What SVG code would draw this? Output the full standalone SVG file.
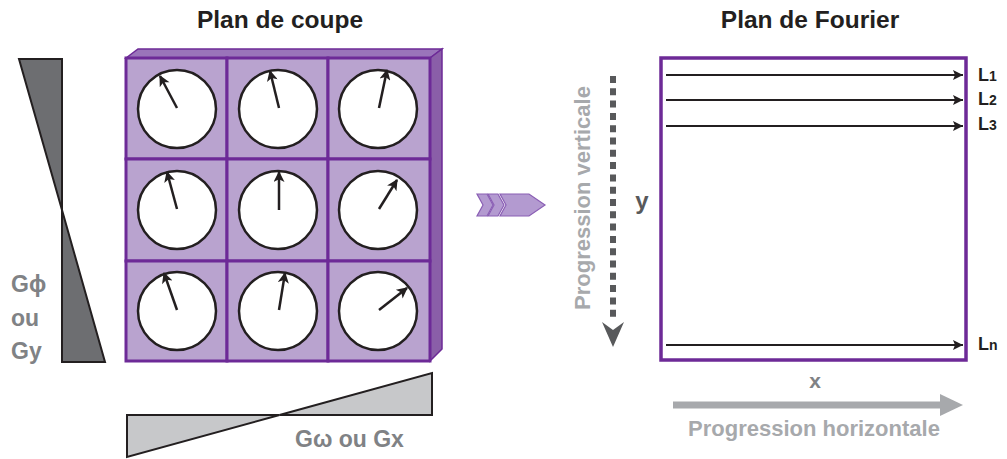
<svg xmlns="http://www.w3.org/2000/svg" width="1007" height="459" viewBox="0 0 1007 459">
<style>
.title{font-family:"Liberation Sans",Arial,sans-serif;font-weight:bold;font-size:24.5px;fill:#231f20;text-anchor:middle}
.glab{font-family:"Liberation Sans",Arial,sans-serif;font-weight:bold;font-size:23px;fill:#808285}
.lab{font-family:"Liberation Sans",Arial,sans-serif;font-weight:bold;font-size:18px;fill:#231f20}
.sub{font-size:14px}
.prog{font-family:"Liberation Sans",Arial,sans-serif;font-weight:bold;font-size:22px;fill:#a7a9ac}
.cell{fill:#b9a3cf;stroke:#6d2a97;stroke-width:3}
.dial{fill:#fff;stroke:#231f20;stroke-width:2.5}
.hand{stroke:#231f20;stroke-width:2.5;fill:none;marker-end:url(#hh)}
.line{stroke:#231f20;stroke-width:2;fill:none;marker-end:url(#lh)}
.grad{stroke:#231f20;stroke-width:2;stroke-linejoin:miter}
</style>
<defs>
<marker id="hh" viewBox="0 0 10 10" refX="9" refY="5" markerUnits="userSpaceOnUse" markerWidth="13" markerHeight="11" orient="auto">
<path d="M0,0 L10,5 L0,10 L2.5,5 Z" fill="#231f20"/>
</marker>
<marker id="lh" viewBox="0 0 10 10" refX="10" refY="5" markerUnits="userSpaceOnUse" markerWidth="15" markerHeight="10" orient="auto">
<path d="M0,0 L10,5 L0,10 L2,5 Z" fill="#231f20"/>
</marker>
</defs>

<g id="title-coupe"><text class="title" x="280" y="28">Plan de coupe</text></g>
<g id="title-fourier"><text class="title" x="810" y="28">Plan de Fourier</text></g>

<g id="gradient-y">
<polygon class="grad" points="19,59 62,59 62,210" fill="#6d6e71"/>
<polygon class="grad" points="62,210 62,362 105,362" fill="#6d6e71"/>
<text class="glab" x="11" y="292">Gϕ</text>
<text class="glab" x="11" y="326">ou</text>
<text class="glab" x="11" y="359">Gy</text>
</g>

<g id="gradient-x">
<polygon class="grad" points="127,415 127,457 279.5,415" fill="#c7c8ca"/>
<polygon class="grad" points="279.5,415 432,415 432,373" fill="#c7c8ca"/>
<text class="glab" x="295" y="447" font-size="26">Gω ou Gx</text>
</g>

<g id="plan-coupe">
<polygon points="126,58 138,49 442,49 430,58" fill="#9a74ba" stroke="#6d2a97" stroke-width="1.5"/>
<polygon points="430,58 442,49 442,349 430,361" fill="#8a5ea8" stroke="#6d2a97" stroke-width="1.5"/>
<rect class="cell" x="126" y="58" width="101" height="101"/>
<rect class="cell" x="227" y="58" width="101" height="101"/>
<rect class="cell" x="328" y="58" width="102" height="101"/>
<rect class="cell" x="126" y="159" width="101" height="102"/>
<rect class="cell" x="227" y="159" width="101" height="102"/>
<rect class="cell" x="328" y="159" width="102" height="102"/>
<rect class="cell" x="126" y="261" width="101" height="100"/>
<rect class="cell" x="227" y="261" width="101" height="100"/>
<rect class="cell" x="328" y="261" width="102" height="100"/>
<circle class="dial" cx="177" cy="109" r="39"/>
<circle class="dial" cx="278" cy="109" r="39"/>
<circle class="dial" cx="378" cy="109" r="39"/>
<circle class="dial" cx="177" cy="210" r="39"/>
<circle class="dial" cx="278" cy="210" r="39"/>
<circle class="dial" cx="378" cy="210" r="39"/>
<circle class="dial" cx="177" cy="311" r="39"/>
<circle class="dial" cx="278" cy="311" r="39"/>
<circle class="dial" cx="378" cy="311" r="39"/>
<line class="hand" x1="177" y1="108" x2="160" y2="76"/>
<line class="hand" x1="279" y1="108" x2="270" y2="71"/>
<line class="hand" x1="379" y1="108" x2="387" y2="70"/>
<line class="hand" x1="177" y1="209" x2="167" y2="172"/>
<line class="hand" x1="279" y1="210" x2="279" y2="172"/>
<line class="hand" x1="379" y1="209" x2="397" y2="180"/>
<line class="hand" x1="177" y1="310" x2="164" y2="273"/>
<line class="hand" x1="279" y1="310" x2="285" y2="273"/>
<line class="hand" x1="379" y1="310" x2="407" y2="288"/>
</g>

<g id="plan-fourier">
<rect x="661" y="58" width="305" height="302" fill="#fff" stroke="#6d2a97" stroke-width="3.5"/>
<text class="lab" x="978" y="81">L<tspan class="sub">1</tspan></text>
<text class="lab" x="978" y="105">L<tspan class="sub">2</tspan></text>
<text class="lab" x="978" y="130">L<tspan class="sub">3</tspan></text>
<text class="lab" x="978" y="350">L<tspan class="sub">n</tspan></text>
</g>

<g id="axis-y">
<text class="prog" transform="translate(590,198) rotate(-90)" text-anchor="middle">Progression verticale</text>
<text x="642" y="209" font-family="Liberation Sans, Arial, sans-serif" font-weight="bold" font-size="24" fill="#58595b" text-anchor="middle">y</text>
</g>

<g id="axis-x">
<text x="815" y="388" font-family="Liberation Sans, Arial, sans-serif" font-weight="bold" font-size="21" fill="#808285" text-anchor="middle">x</text>
<text class="prog" x="814" y="436" text-anchor="middle">Progression horizontale</text>
</g>

<g id="connectors">
<polygon points="477,194 487,194 493,205 487,216 477,216 483,205" fill="#b39ad0" stroke="#8a5eb4" stroke-width="1.2"/>
<polygon points="488,194 498,194 504,205 498,216 488,216 494,205" fill="#b39ad0" stroke="#8a5eb4" stroke-width="1.2"/>
<polygon points="500,194 529,194 545,205 529,216 500,216 506,205" fill="#b39ad0" stroke="#8a5eb4" stroke-width="1.2"/>
<line class="line" x1="666" y1="75" x2="963" y2="75"/>
<line class="line" x1="666" y1="100" x2="963" y2="100"/>
<line class="line" x1="666" y1="126" x2="963" y2="126"/>
<line class="line" x1="666" y1="345" x2="963" y2="345"/>
<line x1="613" y1="76" x2="613" y2="318" stroke="#58595b" stroke-width="6" stroke-dasharray="7,5.3"/>
<polygon points="602,322 613,330 624,322 613,347" fill="#58595b"/>
<line x1="673" y1="405" x2="944" y2="405" stroke="#a7a9ac" stroke-width="7"/>
<polygon points="940,394 963,405 940,416" fill="#a7a9ac"/>
</g>
</svg>
